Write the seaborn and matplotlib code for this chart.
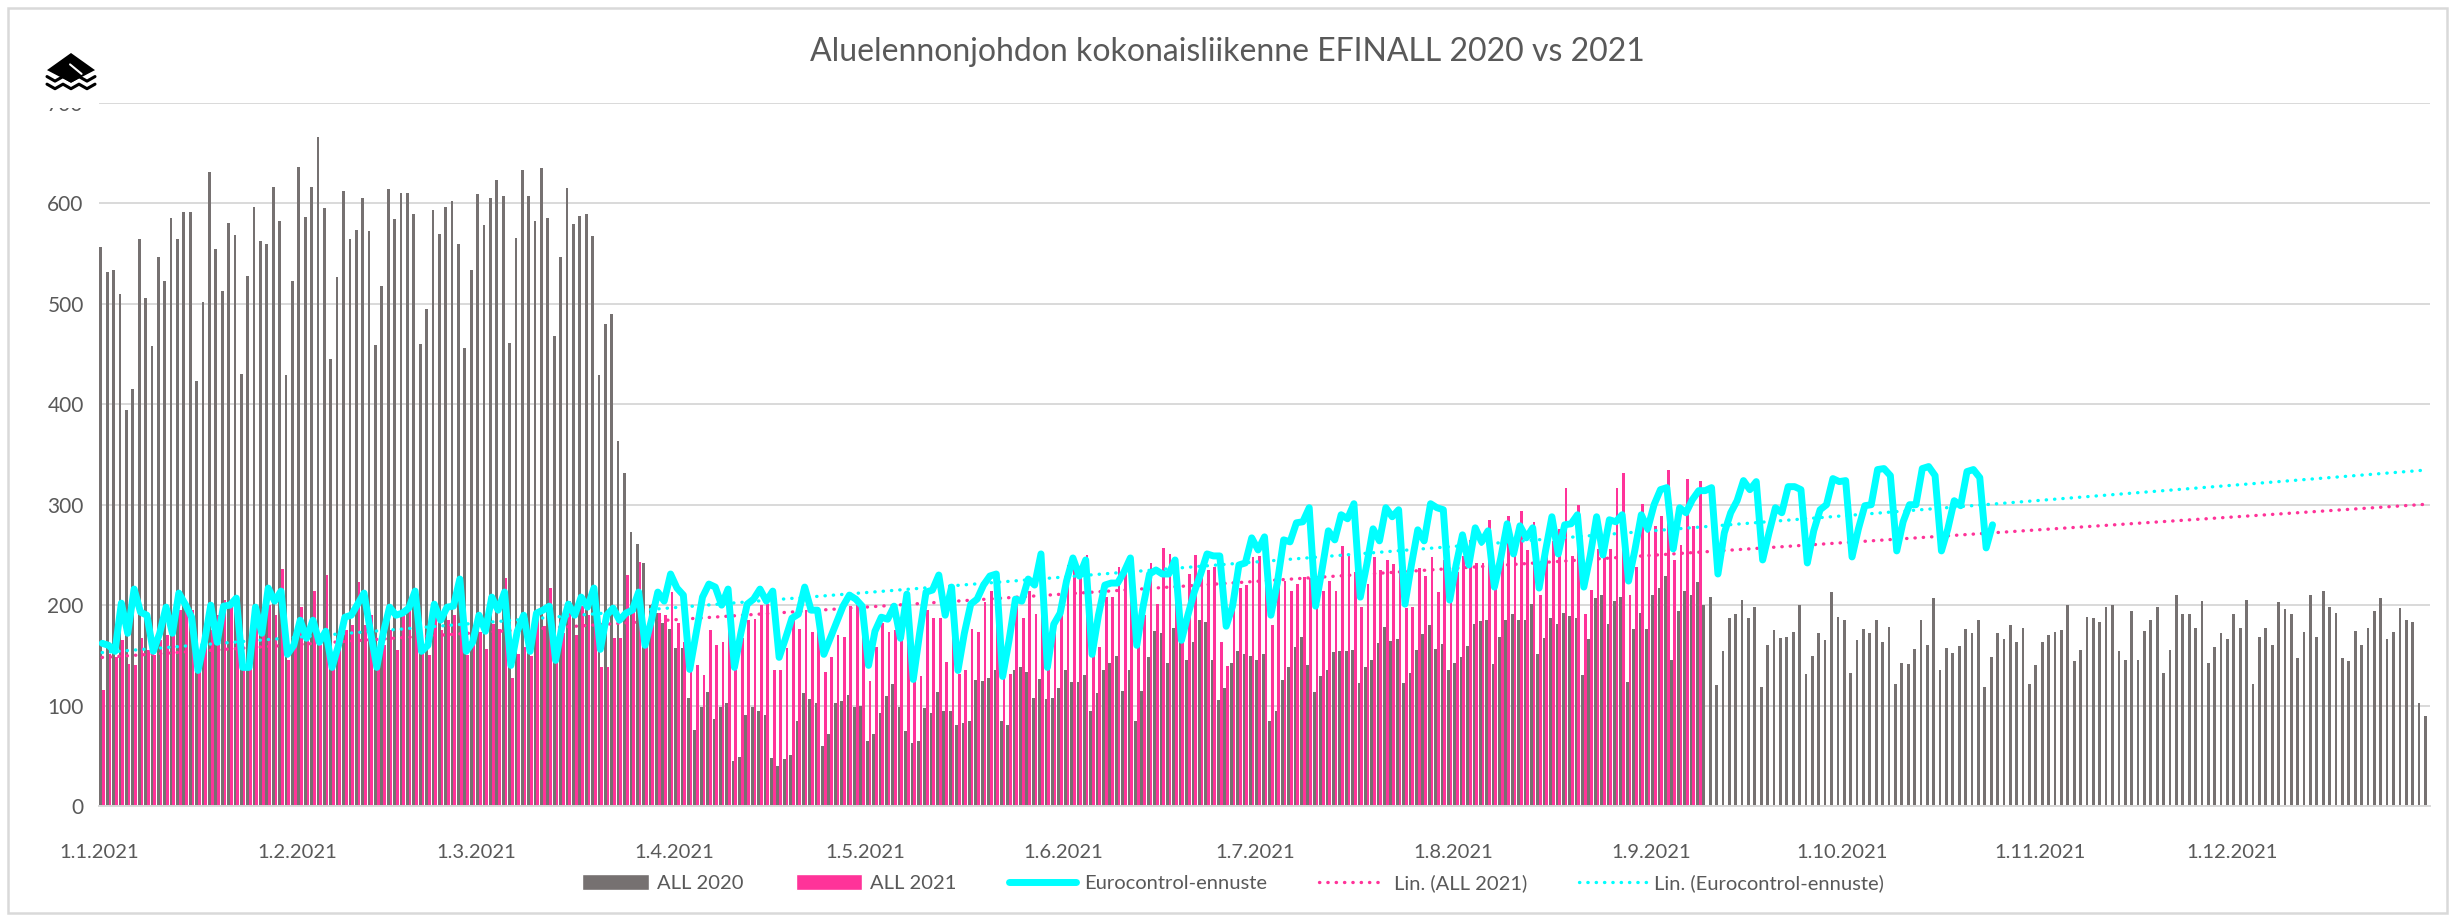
import numpy as np
import pandas as pd
import matplotlib
matplotlib.use("Agg")
import matplotlib.pyplot as plt
from matplotlib.patches import Rectangle, Polygon, Patch
from matplotlib.lines import Line2D
import seaborn as sns

# x axis: one category per day of 2021
month_labels = ["1.1.2021", "1.2.2021", "1.3.2021", "1.4.2021", "1.5.2021", "1.6.2021",
                "1.7.2021", "1.8.2021", "1.9.2021", "1.10.2021", "1.11.2021", "1.12.2021"]
month_start_days = [0, 31, 59, 90, 120, 151, 181, 212, 243, 273, 304, 334]

# ALL 2020, daily movements laid over the 2021 calendar (365 days)
all_2020 = [
    557, 532, 534, 510, 394, 415, 565, 506, 458, 547,
    523, 585, 565, 591, 591, 423, 502, 631, 555, 513,
    581, 569, 430, 528, 596, 563, 560, 616, 583, 429,
    523, 636, 586, 616, 666, 595, 445, 527, 612, 565,
    574, 605, 573, 459, 518, 614, 584, 610, 610, 589,
    460, 495, 593, 570, 596, 602, 560, 456, 534, 609,
    579,
    605, 623, 607, 461, 566, 633, 607, 583, 635, 585,
    468, 547, 615, 580, 587, 589, 568, 429, 480, 490,
    363, 332, 273, 261, 242, 200, 192, 182, 176, 157,
    157, 108, 76, 99, 114, 87, 99, 103, 45, 49,
    91, 99, 95, 91, 48, 40, 47, 51, 85, 113,
    107, 103, 60, 72, 103, 105, 111, 99, 100, 65,
    72, 93, 110, 121, 99, 75, 63, 65, 98, 93,
    114, 95, 95, 81, 83, 85, 125, 124, 127, 135,
    85, 81, 135, 138, 133, 108, 126, 107, 108, 117,
    135, 123, 123, 130, 95, 113, 135, 142, 149, 115,
    135, 85, 115, 148, 174, 172, 142, 177, 174, 145,
    163, 185, 183, 145, 106, 117, 142, 154, 151, 149,
    145, 151, 85, 95, 125, 138, 158, 168, 140, 114,
    129, 135, 153, 154, 154, 155, 122, 138, 145, 162,
    178, 164, 166, 122, 132, 155, 171, 180, 156, 161,
    135, 142, 148, 159, 181, 184, 185, 141, 168, 185,
    191, 185, 185, 201, 151, 167, 187, 181, 192, 189,
    187, 130, 166, 207, 210, 181, 204, 208, 123, 176,
    192, 176, 210, 217, 229, 145, 194, 214, 210, 223,
    200, 208, 120, 154, 187, 191, 205, 187, 198, 118,
    160, 175, 167, 168, 173, 200, 131, 149, 172, 165,
    213, 188, 185, 132, 165, 176, 172, 185, 163, 178,
    121, 142, 141, 156, 185, 160, 207, 135, 157, 152,
    159, 176, 172, 185, 118, 148, 172, 166, 180, 163,
    177,
    121, 140, 163, 170, 173, 175, 200, 144, 155, 188,
    187, 183, 198, 200, 154, 145, 194, 145, 174, 185,
    198, 132, 155, 210, 191, 191, 177, 204, 142, 158,
    172, 166, 191, 177, 205, 121, 168, 177, 160, 203,
    196, 191, 147, 173, 210, 168, 214, 198, 192, 147,
    144, 174, 160, 177, 194, 207, 166, 173, 197, 185,
    183, 103, 90,
]

# ALL 2021, 1.1. - 8.9.2021
all_2021 = [
    116, 151, 148, 165, 141, 140, 167, 155, 150, 165,
    170, 190, 195, 200, 195, 150, 160, 175, 190, 205,
    205, 172, 150, 165, 185, 195, 200, 190, 236, 145,
    160, 198, 170, 214, 160, 230, 150, 160, 175, 180,
    223, 180, 190, 140, 160, 175, 155, 195, 195, 200,
    160, 150, 190, 175, 185, 190, 190, 150, 160, 173,
    156,
    181, 176, 227, 127, 151, 158, 149, 190, 179, 217,
    156, 172, 204, 170, 199, 190, 199, 138, 138, 167,
    167, 230, 195, 243, 158, 201, 192, 190, 213, 182,
    163, 140, 140, 130, 175, 160, 163, 204, 135, 167,
    185, 186, 200, 201, 135, 135, 157, 190, 176, 195,
    173, 176, 133, 148, 170, 168, 199, 200, 200, 124,
    158, 182, 173, 175, 167, 210, 126, 129, 195, 187,
    187, 143, 170, 131, 135, 176, 173, 203, 214, 222,
    131, 131, 208, 187, 214, 191, 222, 138, 185, 190,
    240, 240, 235, 250, 154, 158, 208, 208, 238, 233,
    245, 163, 190, 242, 201, 257, 251, 231, 167, 231,
    250, 231, 235, 238, 163, 139, 204, 217, 220, 248,
    249, 231, 180, 224, 224, 214, 221, 228, 227, 197,
    214, 224, 214, 259, 249, 233, 198, 221, 248, 235,
    245, 241, 237, 197, 198, 237, 229, 248, 213, 245,
    205, 233, 249, 265, 242, 242, 285, 218, 248, 289,
    249, 294, 255, 283, 210, 249, 264, 276, 317, 249,
    300, 191, 215, 256, 263, 256, 317, 332, 210, 238,
    301, 276, 279, 289, 335, 245, 260, 326, 279, 324,
]

# Eurocontrol-ennuste, 1.1. - 24.10.2021
eurocontrol = [
    162, 160, 154, 202, 172, 216, 193, 190, 154, 172,
    198, 172, 212, 201, 188, 135, 163, 200, 163, 199,
    200, 207, 138, 138, 198, 172, 217, 204, 214, 151,
    160, 185, 167, 185, 163, 174, 138, 160, 188, 190,
    201, 212, 174, 138, 172, 198, 190, 192, 197, 214,
    154, 160, 201, 185, 198, 199, 226, 154, 163, 190,
    174,
    208, 195, 213, 140, 174, 190, 154, 192, 195, 199,
    145, 179, 201, 190, 208, 198, 217, 156, 190, 197,
    185, 192, 195, 213, 160, 185, 213, 204, 231, 217,
    210, 136, 172, 208, 221, 218, 200, 216, 138, 172,
    201, 206, 216, 204, 214, 148, 167, 187, 191, 218,
    195, 195, 151, 167, 183, 199, 210, 206, 199, 140,
    174, 188, 186, 199, 167, 211, 126, 172, 213, 215,
    230, 190, 218, 135, 172, 201, 206, 220, 229, 231,
    129, 165, 206, 204, 226, 220, 251, 138, 181, 192,
    224, 247, 229, 245, 151, 190, 220, 222, 222, 233,
    247, 160, 199, 231, 235, 231, 231, 245, 165, 190,
    213, 231, 251, 249, 249, 179, 199, 240, 242, 267,
    255, 268, 190, 222, 265, 263, 282, 283, 297, 199,
    235, 274, 265, 290, 286, 301, 208, 240, 276, 264,
    297, 288, 295, 201, 240, 275, 264, 301, 297, 295,
    205, 240, 270, 240, 277, 263, 274, 218, 247, 281,
    251, 279, 267, 277, 217, 254, 288, 251, 280, 281,
    290, 218, 249, 288, 250, 285, 283, 290, 224, 255,
    290, 276, 300, 315, 317, 256, 297, 292, 305, 314,
    314, 317, 231, 272, 292, 304, 324, 315, 323, 245,
    272, 297, 292, 318, 318, 315, 242, 274, 295, 300,
    326, 323, 324, 248, 276, 299, 300, 335, 336, 329,
    254, 283, 300, 300, 336, 338, 329, 254, 276, 304,
    299, 333, 335, 327, 257, 280,
]

GREY = "#767171"
PINK = "#ff3399"
CYAN = "#00ffff"
TEXT = "#595959"
LINE = "#d9d9d9"

W, H = 2455, 917

sns.set_theme(style="white")
plt.rcParams["font.family"] = ["Lato", "DejaVu Sans"]

fig = plt.figure(figsize=(W / 100, H / 100), dpi=100)
fig.patch.set_facecolor("white")
ax = fig.add_axes([99 / W, 1 - 806 / H, (2430 - 99) / W, (806 - 103) / H])

n_days = len(all_2020)
bars = pd.concat([
    pd.DataFrame({"day": np.arange(n_days), "value": all_2020, "series": "ALL 2020"}),
    pd.DataFrame({"day": np.arange(len(all_2021)), "value": all_2021, "series": "ALL 2021"}),
])
sns.barplot(data=bars, x="day", y="value", hue="series", order=list(range(n_days)),
            hue_order=["ALL 2020", "ALL 2021"],
            palette={"ALL 2020": GREY, "ALL 2021": PINK}, saturation=1,
            width=0.86, dodge=True, errorbar=None, legend=False, linewidth=0, ax=ax)
# crisp thin columns like the original, no grey/pink blending at the edges
for bar in ax.patches:
    bar.set_antialiased(False)

# linear trendlines (Excel "Lin.") fitted to the series, extended over the year
days_21 = np.arange(len(all_2021))
days_ec = np.arange(len(eurocontrol))
k21, b21 = np.polyfit(days_21, all_2021, 1)
kec, bec = np.polyfit(days_ec, eurocontrol, 1)
span = np.array([0, n_days - 1])
dot = dict(linestyle=(0, (0.1, 2.4)), dash_capstyle="round", lw=2.4)
ax.plot(span, k21 * span + b21, color=PINK, zorder=3, **dot)
ax.plot(span, kec * span + bec, color=CYAN, zorder=3, **dot)

sns.lineplot(x=days_ec, y=eurocontrol, color=CYAN, lw=5, ax=ax, zorder=4,
             solid_joinstyle="round", solid_capstyle="round")

ax.set_xlim(-0.5, n_days - 0.5)
ax.set_ylim(0, 700)
ax.set_yticks(range(0, 701, 100))
ax.set_xticks([d - 0.5 for d in month_start_days] + [n_days - 0.5])
ax.set_xticklabels(month_labels + [""])
ax.set_xlabel("")
ax.set_ylabel("")
ax.set_axisbelow(True)
ax.yaxis.grid(True, color=LINE, lw=1.4)
for side in ["left", "right", "top"]:
    ax.spines[side].set_visible(False)
ax.spines["bottom"].set_color(LINE)
ax.spines["bottom"].set_linewidth(1.4)
ax.tick_params(axis="x", direction="out", length=4.5, width=1.2, color=LINE,
               labelcolor=TEXT, labelsize=14.5, pad=23)
ax.tick_params(axis="y", length=0, labelcolor=TEXT, labelsize=15, pad=11)

fig.text(1227 / W, 1 - 52 / H, "Aluelennonjohdon kokonaisliikenne EFINALL 2020 vs 2021",
         ha="center", va="center", fontsize=23, color=TEXT)

handles = [
    Patch(facecolor=GREY, label="ALL 2020"),
    Patch(facecolor=PINK, label="ALL 2021"),
    Line2D([], [], color=CYAN, lw=5, label="Eurocontrol-ennuste"),
    Line2D([], [], color=PINK, label="Lin. (ALL 2021)", **dot),
    Line2D([], [], color=CYAN, label="Lin. (Eurocontrol-ennuste)", **dot),
]
fig.legend(handles=handles, loc="center", bbox_to_anchor=(1233 / W, 1 - 883 / H),
           ncol=5, frameon=False, fontsize=14.5, labelcolor=TEXT,
           handlelength=3.3, handleheight=0.8, handletextpad=0.4, columnspacing=2.6)


def px(x, y):
    return (x / W, 1 - y / H)


# white box over the top of the clipped "700" label, then the logo
fig.add_artist(Rectangle(px(0, 108), 95 / W, 108 / H, transform=fig.transFigure,
                         facecolor="white", edgecolor="none", zorder=10))
lx, ly, lw_, lh = 47, 53, 48, 38
def lp(u, v):
    return px(lx + u * lw_, ly + v * lh)
fig.add_artist(Polygon([lp(0, 0.45), lp(0.5, 0), lp(1, 0.45), lp(0.5, 0.78)],
                       closed=True, transform=fig.transFigure, facecolor="black",
                       edgecolor="none", zorder=11))
fig.add_artist(Line2D(*zip(lp(0.48, 0.3), lp(0.72, 0.55)), transform=fig.transFigure,
                      color="white", lw=1.5, zorder=12))
for v in (0.62, 0.82):
    pts = [lp(u, v + (0.12 if i % 2 else 0)) for i, u in enumerate(np.linspace(0, 1, 7))]
    fig.add_artist(Line2D([p[0] for p in pts], [p[1] for p in pts], transform=fig.transFigure,
                          color="black", lw=2.2, zorder=11))

# chart border
fig.add_artist(Rectangle(px(8, 913), (2447 - 8) / W, (913 - 8) / H, transform=fig.transFigure,
                         facecolor="none", edgecolor=LINE, lw=1.8, zorder=13))

fig.savefig("out.png", dpi=100, facecolor="white")
